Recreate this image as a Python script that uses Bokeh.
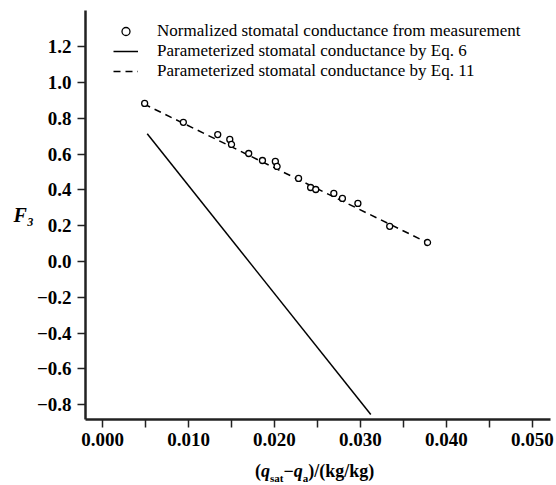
from bokeh.plotting import figure
from bokeh.layouts import column
from bokeh.models import Range1d, FixedTicker, Legend, LegendItem, Div
from bokeh.embed import file_html
from bokeh.resources import INLINE

# Measured (normalized) stomatal conductance
meas_x = [0.0049, 0.0094, 0.0134, 0.0148, 0.0150, 0.0170, 0.0186, 0.0201, 0.0203,
          0.0228, 0.0242, 0.0248, 0.0269, 0.0279, 0.0297, 0.0334, 0.0378]
meas_y = [0.883, 0.777, 0.709, 0.682, 0.654, 0.603, 0.564, 0.559, 0.531,
          0.464, 0.413, 0.402, 0.380, 0.352, 0.324, 0.196, 0.106]
# Parameterized by Eq. 6 (solid)
eq6_x = [0.0052, 0.0312]
eq6_y = [0.713, -0.855]
# Parameterized by Eq. 11 (dashed)
eq11_x = [0.0048, 0.0380]
eq11_y = [0.880, 0.100]

x_ticks = [0.0, 0.01, 0.02, 0.03, 0.04, 0.05]
x_labels = ["0.000", "0.010", "0.020", "0.030", "0.040", "0.050"]
x_minor = [0.005, 0.015, 0.025, 0.035, 0.045]
y_ticks = [-0.8, -0.6, -0.4, -0.2, 0.0, 0.2, 0.4, 0.6, 0.8, 1.0, 1.2]
y_labels = ["\u22120.8", "\u22120.6", "\u22120.4", "\u22120.2", "0.0", "0.2", "0.4", "0.6", "0.8", "1.0", "1.2"]

legend_labels = ["Normalized stomatal conductance from measurement",
                 "Parameterized stomatal conductance by Eq. 6",
                 "Parameterized stomatal conductance by Eq. 11"]
y_title = "F\u2083"
x_title_html = ("(<i>q</i><sub style='font-size:11px'>sat</sub>\u2212<i>q</i>"
                "<sub style='font-size:11px'>a</sub>)/(kg/kg)")

SERIF = "Liberation Serif"

p = figure(width=554, height=459, output_backend="svg", toolbar_location=None,
           x_range=Range1d(-0.00198, 0.0521), y_range=Range1d(-0.883, 1.402),
           min_border_left=85, min_border_right=4, min_border_top=10, min_border_bottom=40)
p.outline_line_color = None
p.grid.visible = False
p.background_fill_color = "white"

r_sol = p.line(eq6_x, eq6_y, line_color="black", line_width=1.5)
r_dash = p.line(eq11_x, eq11_y, line_color="black", line_width=1.5, line_dash="7 5")
r_pts = p.scatter(meas_x, meas_y, marker="circle", size=6, fill_color="white",
                  line_color="black", line_width=1.3)

legend = Legend(items=[LegendItem(label=legend_labels[0], renderers=[r_pts]),
                       LegendItem(label=legend_labels[1], renderers=[r_sol]),
                       LegendItem(label=legend_labels[2], renderers=[r_dash])],
                location=(28, 338), glyph_width=25, glyph_height=20, label_height=20,
                spacing=0, padding=0, margin=0, label_standoff=19,
                border_line_color=None, background_fill_alpha=0,
                label_text_font=SERIF, label_text_font_size="17px", label_text_color="black")
p.add_layout(legend)

for ax in (p.xaxis[0], p.yaxis[0]):
    ax.axis_line_width = 2.5
    ax.axis_line_color = "#222222"
    ax.major_tick_in = 0
    ax.major_tick_out = 8
    ax.major_tick_line_width = 1.5
    ax.major_tick_line_color = "#222222"
    ax.major_label_text_font = SERIF
    ax.major_label_text_font_style = "bold"
    ax.major_label_text_font_size = "19px"
    ax.major_label_text_color = "black"

p.xaxis.ticker = FixedTicker(ticks=x_ticks, minor_ticks=x_minor)
p.xaxis.major_label_overrides = dict(zip(x_ticks, x_labels))
p.xaxis.minor_tick_in = 0
p.xaxis.minor_tick_out = 8
p.xaxis.minor_tick_line_width = 1.5
p.xaxis.minor_tick_line_color = "#222222"
p.xaxis.major_label_standoff = 5

p.yaxis.ticker = FixedTicker(ticks=y_ticks)
p.yaxis.major_label_overrides = dict(zip(y_ticks, y_labels))
p.yaxis.minor_tick_line_color = None
p.yaxis.major_label_standoff = 6
p.yaxis.axis_label = y_title
p.yaxis.axis_label_orientation = "horizontal"
p.yaxis.axis_label_standoff = 0
p.yaxis.axis_label_text_font = SERIF
p.yaxis.axis_label_text_font_style = "bold italic"
p.yaxis.axis_label_text_font_size = "20px"
p.yaxis.axis_label_text_color = "black"

xdiv = Div(text=x_title_html, width=554, height=26, margin=0,
           styles={"font-family": SERIF, "font-size": "18px", "font-weight": "bold",
                   "line-height": "24px", "padding-left": "255px", "white-space": "nowrap",
                   "color": "black"})

layout = column(p, xdiv, spacing=0)
open("out.html", "w").write(file_html(layout, INLINE))
